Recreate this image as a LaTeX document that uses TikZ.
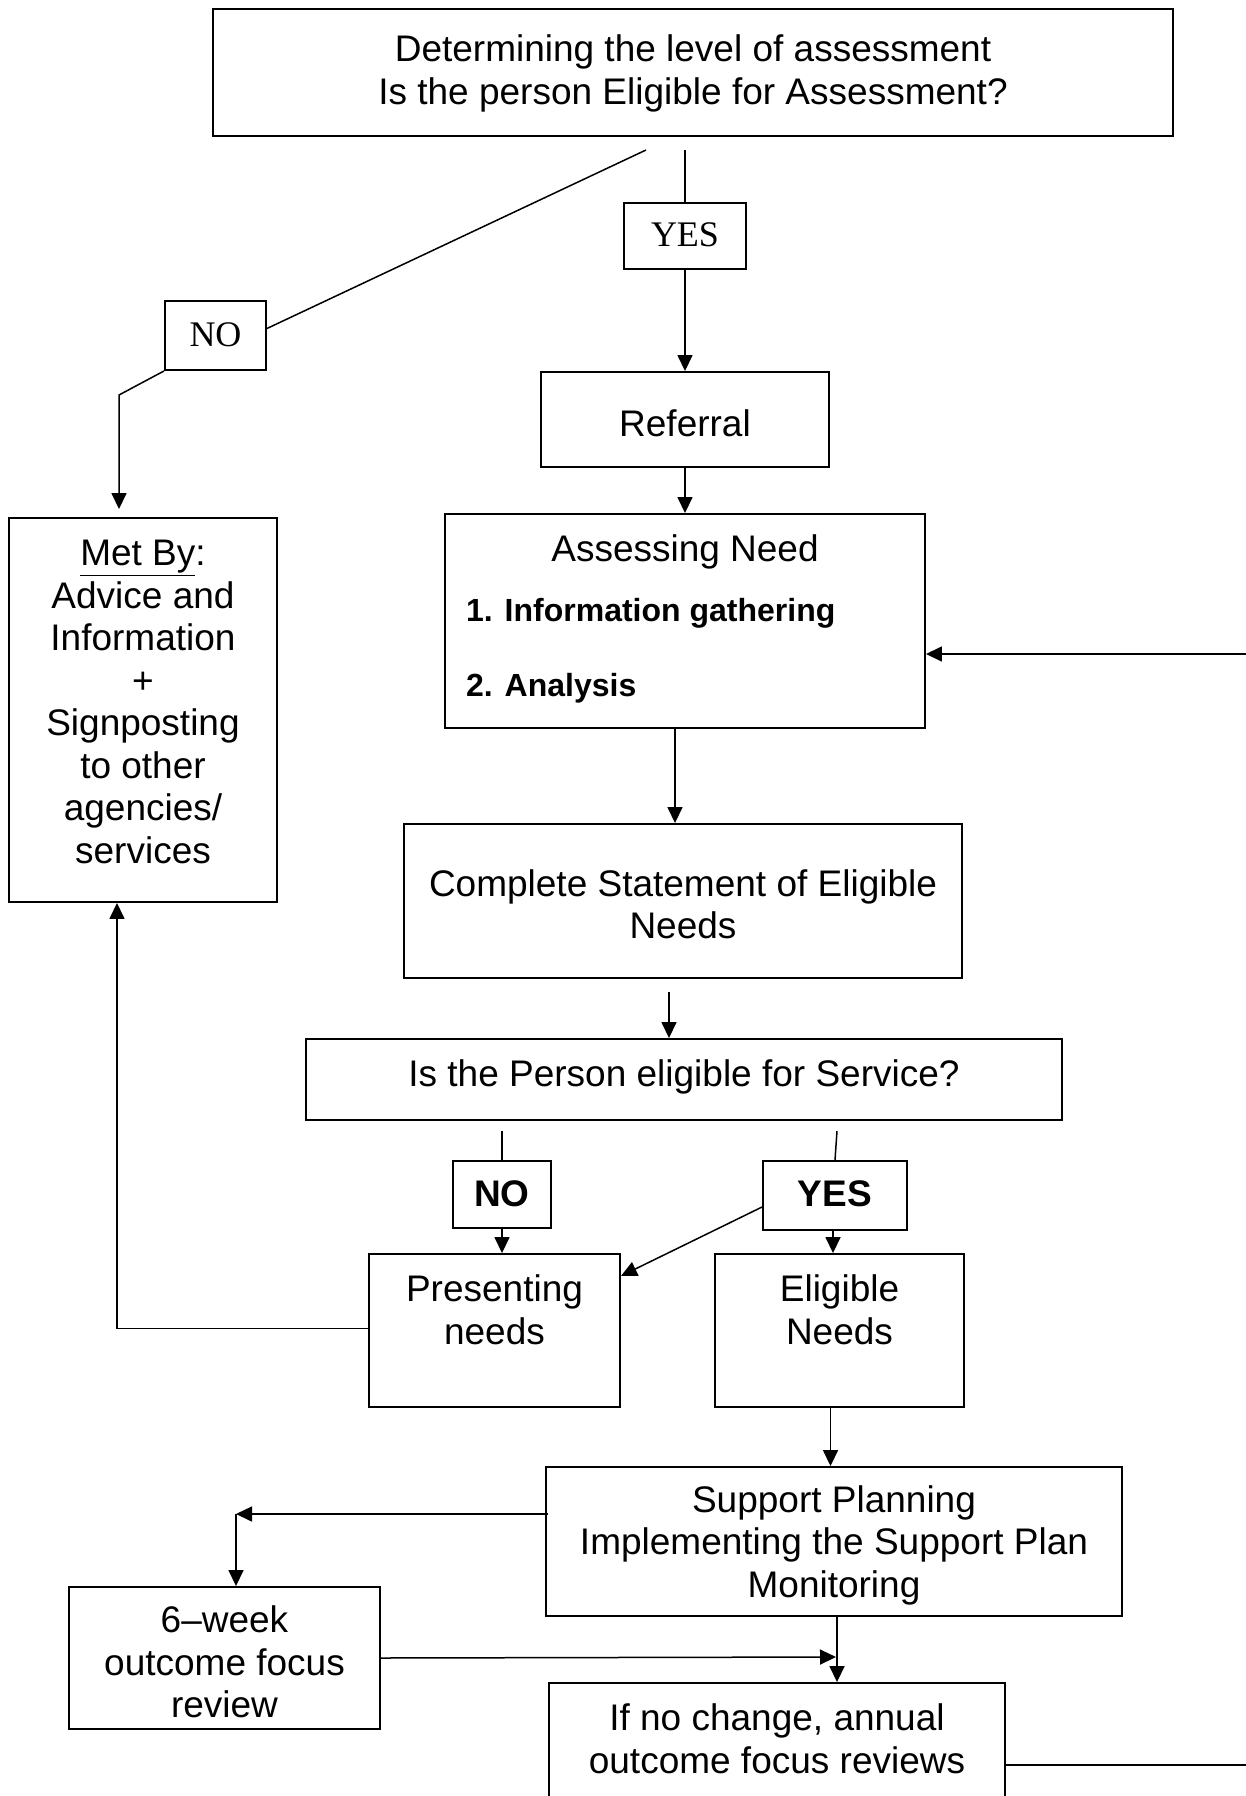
\documentclass[tikz,border=0pt]{standalone}
\usepackage{fontspec}
\setmainfont{Liberation Sans}
\newfontfamily\timesf{Liberation Serif}
\usetikzlibrary{arrows.meta}
\begin{document}
\begin{tikzpicture}[x=1pt,y=-1pt,
  box/.style={draw, line width=1.9pt, inner sep=0pt},
  conn/.style={line width=1.5pt},
  arr/.style={conn, -{Triangle[length=16pt,width=15pt]}},
  txt/.style={font=\fontsize{37}{42.5}\selectfont, align=center, inner sep=0pt},
  btxt/.style={font=\fontsize{32}{38}\selectfont\bfseries, inner sep=0pt, anchor=west},
  ttxt/.style={font=\fontsize{36}{40}\selectfont\timesf, inner sep=0pt},
  yn/.style={font=\fontsize{37}{42}\selectfont\bfseries, inner sep=0pt}
]
\useasboundingbox (0,0) rectangle (1246,1796);
\fill[white] (0,0) rectangle (1246,1796);

% boxes
\node[box, minimum width=960pt, minimum height=127pt] (top) at (693,72.5) {};
\node[txt] (toptxt) at (693,73.5) {Determining the level of assessment\\Is the person Eligible for Assessment?};

\node[box, minimum width=101pt, minimum height=69pt] (no1) at (215.5,335.5) {};
\node[ttxt] (no1t) at (215.5,335) {NO};

\node[box, minimum width=122pt, minimum height=66pt] (yes1) at (685,236) {};
\node[ttxt] (yes1t) at (685,235) {YES};

\node[box, minimum width=288pt, minimum height=95pt] (ref) at (685,419.5) {};
\node[txt] (reft) at (685,423) {Referral};

\node[box, minimum width=480pt, minimum height=214pt] (assess) at (685,621) {};
\node[txt] (assesst) at (685,551.5) {Assessing Need};
\node[btxt] (info) at (466,613) {1. Information gathering};
\node[btxt] (anal) at (466,688) {2. Analysis};

\node[box, minimum width=268pt, minimum height=384pt] (metby) at (143,710) {};
\node[txt] (metbyt) at (143,702) {\underline{Met By}:\\Advice and\\Information\\+\\Signposting\\to other\\agencies/\\services};

\node[box, minimum width=558pt, minimum height=154pt] (complete) at (683,901) {};
\node[txt] (completet) at (683,904.5) {Complete Statement of Eligible\\Needs};

\node[box, minimum width=756pt, minimum height=81pt] (eligq) at (684,1079.5) {};
\node[txt] (eligqt) at (684,1076.5) {Is the Person eligible for Service?};

\node[box, minimum width=98pt, minimum height=67pt] (no2) at (502,1194.5) {};
\node[yn] (no2t) at (502,1193.5) {NO};

\node[box, minimum width=144pt, minimum height=69pt] (yes2) at (835,1195.5) {};
\node[yn] (yes2t) at (835,1193.5) {YES};

\node[box, minimum width=251pt, minimum height=153pt] (pres) at (494.5,1330.5) {};
\node[txt] (prest) at (494.5,1310) {Presenting\\needs};

\node[box, minimum width=249pt, minimum height=153pt] (elig) at (839.5,1330.5) {};
\node[txt] (eligt) at (839.5,1310) {Eligible\\Needs};

\node[box, minimum width=576pt, minimum height=149pt] (support) at (834,1541.5) {};
\node[txt] (supportt) at (834,1545) {Support Planning\\Implementing the Support Plan\\Monitoring};

\node[box, minimum width=311pt, minimum height=142pt] (six) at (224.5,1658) {};
\node[txt] (sixt) at (224.5,1662) {6–week\\outcome focus\\review};

\node[box, minimum width=456pt, minimum height=137pt] (ifno) at (777,1751.5) {};
\node[txt] (ifnot) at (777,1739) {If no change, annual\\outcome focus reviews};

% free ends
\coordinate (c1) at (646,150);
\coordinate (c1b) at (119,395);
\coordinate (cy1) at (685,150);
\coordinate (rin) at (1252,654);
\coordinate (c2) at (669,992);
\coordinate (cn2) at (502,1131);
\coordinate (cy2) at (837,1131);
\coordinate (c3) at (236,1514);
\coordinate (c4) at (836,1657);
\coordinate (rout) at (1252,1765);

% connectors
\draw[conn] (c1) -- ([yshift=7pt]no1.east);
\draw[arr] (no1.south west) -- (c1b) -- ([yshift=8pt]c1b |- metby.north);
\draw[conn] (cy1) -- (yes1.north);
\draw[arr] (yes1.south) -- (ref.north);
\draw[arr] (ref.south) -- (assess.north);
\draw[arr] (rin) -- ([yshift=-33pt]assess.east);
\draw[arr] ([xshift=-10pt]assess.south) -- ([xshift=-10pt]assess.south |- complete.north);
\draw[arr] (c2) -- (c2 |- eligq.north);
\draw[conn] (cn2) -- (no2.north);
\draw[arr] (no2.south) -- (no2.south |- pres.north);
\draw[conn] (cy2) -- (yes2.north);
\draw[arr] ([xshift=-2pt]yes2.south) -- ([xshift=-2pt]yes2.south |- elig.north);
\draw[arr] ([yshift=-11.5pt]yes2.west) -- ([yshift=54.5pt]pres.east);
\draw[arr] ([xshift=2pt,yshift=2pt]pres.west) -- ([yshift=2pt]pres.west -| 117,0) -- (117,0 |- metby.south);
\draw[arr] ([xshift=-9pt]elig.south) -- ([xshift=-9pt]elig.south |- support.north);
\draw[arr] ([xshift=3pt,yshift=27.5pt]support.west) -- (c3);
\draw[arr] (c3) -- (c3 |- six.north);
\draw[arr] (six.east) -- (c4);
\draw[arr] ([xshift=3pt]support.south) -- ([xshift=3pt]support.south |- ifno.north);
\draw[conn] ([yshift=-13.5pt]ifno.east) -- (rout);
\end{tikzpicture}
\end{document}
